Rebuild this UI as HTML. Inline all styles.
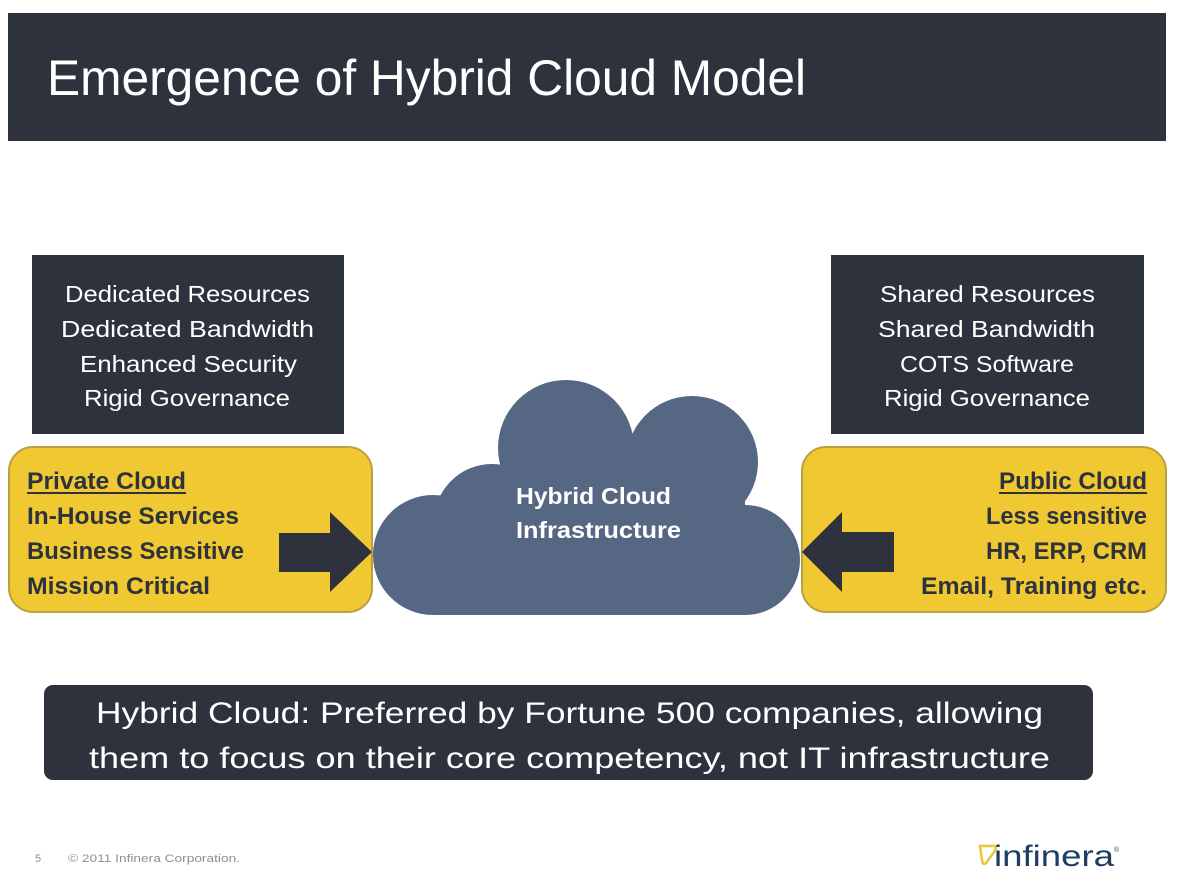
<!DOCTYPE html>
<html><head><meta charset="utf-8"><style>
html,body{margin:0;padding:0;background:#fff;}
svg{display:block;}
text{font-family:"Liberation Sans",sans-serif;}
</style></head><body>
<svg width="1190" height="886" viewBox="0 0 1190 886" xmlns="http://www.w3.org/2000/svg">
<rect x="0" y="0" width="1190" height="886" fill="#fff"/>
<rect x="8" y="13" width="1158" height="128" fill="#2d323c"/>
<text x="47" y="95" font-size="50" fill="#fff" textLength="759" lengthAdjust="spacingAndGlyphs">Emergence of Hybrid Cloud Model</text>

<rect x="32" y="255" width="312" height="179" fill="#2d323c"/>
<g fill="#fff" font-size="23">
<text x="65" y="302" textLength="245" lengthAdjust="spacingAndGlyphs">Dedicated Resources</text>
<text x="61" y="337" textLength="253" lengthAdjust="spacingAndGlyphs">Dedicated Bandwidth</text>
<text x="80" y="372" textLength="217" lengthAdjust="spacingAndGlyphs">Enhanced Security</text>
<text x="84" y="406" textLength="206" lengthAdjust="spacingAndGlyphs">Rigid Governance</text>
</g>
<rect x="831" y="255" width="313" height="179" fill="#2d323c"/>
<g fill="#fff" font-size="23">
<text x="880" y="302" textLength="215" lengthAdjust="spacingAndGlyphs">Shared  Resources</text>
<text x="878" y="337" textLength="217" lengthAdjust="spacingAndGlyphs">Shared Bandwidth</text>
<text x="900" y="372" textLength="174" lengthAdjust="spacingAndGlyphs">COTS Software</text>
<text x="884" y="406" textLength="206" lengthAdjust="spacingAndGlyphs">Rigid Governance</text>
</g>

<rect x="9" y="447" width="363" height="165" rx="24" fill="#f0c832" stroke="#b9a040" stroke-width="2"/>
<rect x="802" y="447" width="364" height="165" rx="24" fill="#f0c832" stroke="#b9a040" stroke-width="2"/>
<g fill="#2d323c" font-size="24" font-weight="bold">
<text x="27" y="489" textLength="159" lengthAdjust="spacingAndGlyphs">Private Cloud</text>
<rect x="27" y="492" width="159" height="2"/>
<text x="27" y="524" textLength="212" lengthAdjust="spacingAndGlyphs">In-House Services</text>
<text x="27" y="559" textLength="217" lengthAdjust="spacingAndGlyphs">Business Sensitive</text>
<text x="27" y="594" textLength="183" lengthAdjust="spacingAndGlyphs">Mission Critical</text>
<text x="999" y="489" textLength="148" lengthAdjust="spacingAndGlyphs">Public Cloud</text>
<rect x="999" y="492" width="148" height="2"/>
<text x="986" y="524" textLength="161" lengthAdjust="spacingAndGlyphs">Less sensitive</text>
<text x="986" y="559" textLength="161" lengthAdjust="spacingAndGlyphs">HR, ERP, CRM</text>
<text x="921" y="594" textLength="226" lengthAdjust="spacingAndGlyphs">Email, Training etc.</text>
</g>

<polygon points="279,533 330,533 330,512 372,552 330,592 330,572 279,572" fill="#2d323c"/>
<polygon points="894,532 842,532 842,512 802,552 842,592 842,572 894,572" fill="#2d323c"/>

<g fill="#566784">
<circle cx="433" cy="555" r="60"/>
<circle cx="492" cy="522" r="58"/>
<circle cx="566" cy="448" r="68"/>
<circle cx="692" cy="462" r="66"/>
<circle cx="745" cy="560" r="55"/>
<rect x="433" y="530" width="312" height="85"/>
<rect x="480" y="500" width="265" height="40"/>
<rect x="500" y="440" width="200" height="70"/>
</g>
<g fill="#fff" font-size="23" font-weight="bold">
<text x="516" y="504" textLength="155" lengthAdjust="spacingAndGlyphs">Hybrid Cloud</text>
<text x="516" y="538" textLength="165" lengthAdjust="spacingAndGlyphs">Infrastructure</text>
</g>

<rect x="44" y="685" width="1049" height="95" rx="9" fill="#2d323c"/>
<g fill="#fff" font-size="30">
<text x="96" y="723" textLength="947" lengthAdjust="spacingAndGlyphs">Hybrid Cloud: Preferred by Fortune 500 companies, allowing</text>
<text x="89" y="768" textLength="961" lengthAdjust="spacingAndGlyphs">them to focus on their core competency, not IT infrastructure</text>
</g>

<g fill="#8a8f99" font-size="11">
<text x="35" y="862">5</text>
<text x="68" y="862" textLength="172" lengthAdjust="spacingAndGlyphs">© 2011 Infinera Corporation.</text>
</g>
<path d="M980,846 L994,846 Q998,846 994,852 L986,863 Q983,866 982,860 Z" fill="none" stroke="#e8c838" stroke-width="2.5"/>
<text x="994" y="866" font-size="30" fill="#1f3d63" textLength="120" lengthAdjust="spacingAndGlyphs">infinera</text>
<text x="1114" y="852" font-size="7" fill="#1f3d63">®</text>
</svg>
</body></html>
